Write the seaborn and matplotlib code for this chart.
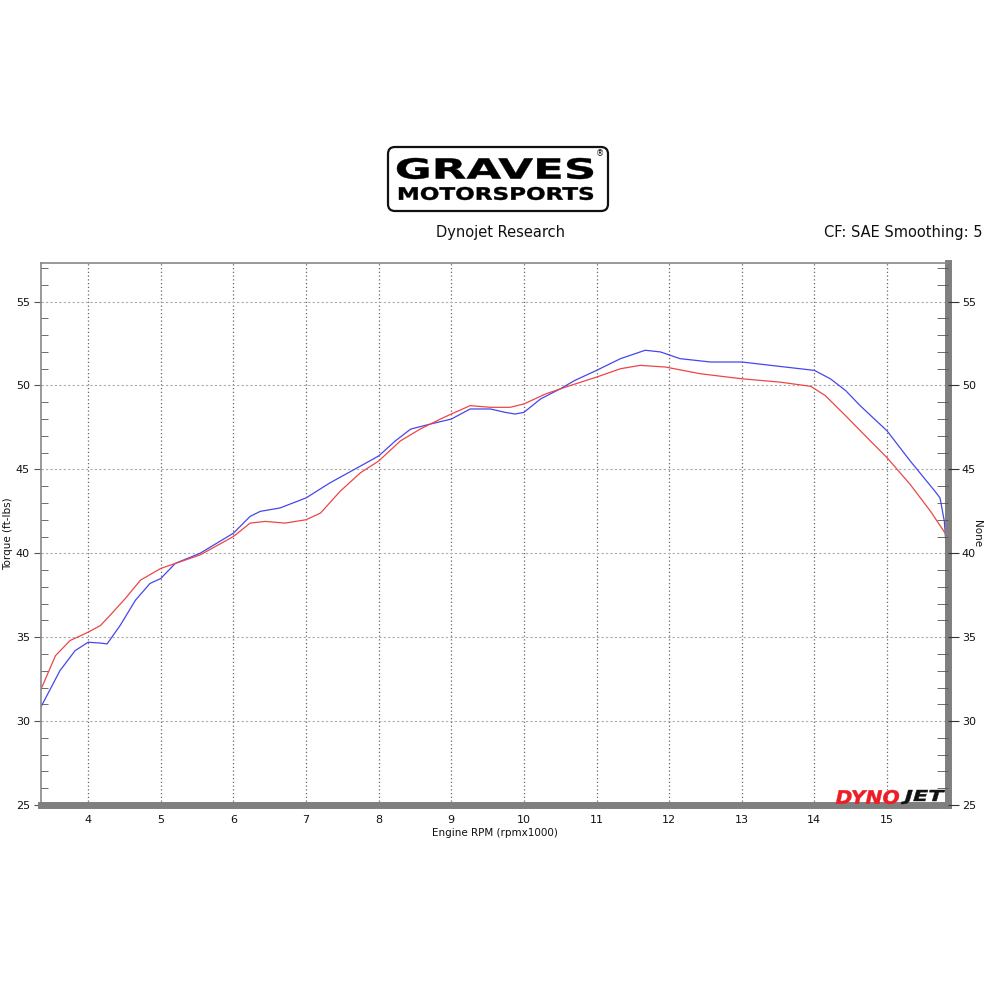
import numpy as np
import pandas as pd
import matplotlib
matplotlib.use("Agg")
import matplotlib.pyplot as plt
import seaborn as sns
from matplotlib.patches import FancyBboxPatch, PathPatch
from matplotlib.textpath import TextPath
from matplotlib.font_manager import FontProperties
from matplotlib.transforms import Affine2D
from matplotlib.ticker import MultipleLocator

# ── Data ──────────────────────────────────────────────────────────────────────
blue_rpm = [3.35, 3.61, 3.82, 4.00, 4.17, 4.26, 4.44, 4.65, 4.85, 5.00, 5.20, 5.54,
            6.00, 6.23, 6.37, 6.64, 7.00, 7.33, 7.75, 8.00, 8.23, 8.44, 8.71, 9.00,
            9.26, 9.54, 9.74, 9.88, 10.00, 10.23, 10.50, 10.70, 11.00, 11.33, 11.67,
            11.88, 12.15, 12.57, 13.00, 13.40, 14.00, 14.22, 14.43, 14.63, 15.00,
            15.32, 15.66, 15.73, 15.79, 15.82, 15.83]
blue_tq = [30.85, 33.0, 34.2, 34.7, 34.65, 34.6, 35.7, 37.2, 38.2, 38.5, 39.4, 40.0,
           41.2, 42.2, 42.5, 42.7, 43.3, 44.2, 45.2, 45.8, 46.7, 47.4, 47.7, 48.0,
           48.6, 48.6, 48.4, 48.3, 48.4, 49.2, 49.8, 50.3, 50.9, 51.6, 52.1,
           52.0, 51.6, 51.4, 51.4, 51.2, 50.9, 50.4, 49.7, 48.8, 47.3,
           45.5, 43.7, 43.3, 41.9, 40.0, 39.0]

red_rpm = [3.35, 3.55, 3.75, 4.00, 4.17, 4.30, 4.51, 4.72, 5.00, 5.27, 5.54, 6.00,
           6.23, 6.44, 6.71, 7.00, 7.20, 7.47, 7.75, 8.00, 8.30, 8.57, 8.85, 9.00,
           9.26, 9.54, 9.81, 10.00, 10.30, 10.64, 11.00, 11.33, 11.60, 11.95, 12.43,
           13.00, 13.53, 13.95, 14.15, 14.43, 14.77, 15.00, 15.32, 15.60, 15.80]
red_tq = [31.9, 33.9, 34.8, 35.3, 35.7, 36.3, 37.3, 38.4, 39.1, 39.5, 39.9, 41.0,
          41.8, 41.9, 41.8, 42.0, 42.4, 43.7, 44.8, 45.5, 46.7, 47.4, 48.0, 48.3,
          48.8, 48.7, 48.7, 48.9, 49.5, 50.0, 50.5, 51.0, 51.2, 51.1, 50.7,
          50.4, 50.2, 49.95, 49.4, 48.2, 46.7, 45.7, 44.1, 42.5, 41.2]

runs = pd.concat([
    pd.DataFrame({"rpm": blue_rpm, "torque": blue_tq, "run": "blue"}),
    pd.DataFrame({"rpm": red_rpm, "torque": red_tq, "run": "red"}),
])

# ── Figure ────────────────────────────────────────────────────────────────────
sns.set_style("white")
plt.rcParams["font.family"] = ["DejaVu Sans"]
plt.rcParams["text.color"] = "#111111"
plt.rcParams["axes.labelcolor"] = "#111111"

fig = plt.figure(figsize=(10, 10), dpi=100)
ax = fig.add_axes([0.041, 0.195, 0.907, 0.542])

sns.lineplot(data=runs, x="rpm", y="torque", hue="run", sort=False,
             palette={"blue": "#4646ec", "red": "#ec4646"}, linewidth=0.9,
             legend=False, ax=ax, estimator=None)

ax.set_xlim(3.35, 15.84)
ax.set_ylim(25, 57.3)
ax.xaxis.set_major_locator(MultipleLocator(1))
ax.xaxis.set_minor_locator(MultipleLocator(0.2))
ax.yaxis.set_major_locator(MultipleLocator(5))
ax.yaxis.set_minor_locator(MultipleLocator(1))
ax.grid(True, which="major", axis="x", color="#666666", linestyle=(0, (1, 2)), linewidth=0.9)
ax.grid(True, which="major", axis="y", color="#aaaaaa", linestyle=(0, (2, 2)), linewidth=0.8)

ax.tick_params(axis="x", which="major", direction="inout", length=10, width=1,
               color="#333333", labelsize=8, labelcolor="#111111", pad=2)
ax.tick_params(axis="x", which="minor", direction="in", length=5, color="#555555")
ax.tick_params(axis="y", which="major", direction="out", length=5, color="#555555",
               labelsize=8, labelcolor="#111111", pad=3)
ax.tick_params(axis="y", which="minor", direction="in", length=5, color="#555555")

for side in ["left", "top"]:
    ax.spines[side].set_color("#888888")
    ax.spines[side].set_linewidth(1.2)
ax.spines["bottom"].set_color("#7f7f7f")
ax.spines["bottom"].set_linewidth(5)
ax.spines["right"].set_color("#7f7f7f")
ax.spines["right"].set_linewidth(5)

ax.set_xlabel("Engine RPM (rpmx1000)", fontsize=7.5)
ax.set_ylabel("Torque (ft-lbs)", fontsize=7.5)
ax.xaxis.set_label_coords(0.5, -0.043)
ax.yaxis.set_label_coords(-0.031, 0.5)

# right-hand axis mirrors the torque scale
ax2 = ax.twinx()
ax2.set_ylim(ax.get_ylim())
ax2.yaxis.set_major_locator(MultipleLocator(5))
ax2.yaxis.set_minor_locator(MultipleLocator(1))
ax2.tick_params(axis="y", which="major", direction="out", length=8, color="#333333",
                labelsize=8, labelcolor="#111111", pad=2)
ax2.tick_params(axis="y", which="minor", direction="in", length=8, color="#555555")
for s in ax2.spines.values():
    s.set_visible(False)
ax2.set_ylabel("None", rotation=-90, fontsize=7.5)
ax2.yaxis.set_label_coords(1.038, 0.5)


def boxed_text(s, x0, y0, w, h, color="black", italic=False):
    # text path squeezed into a box given in figure fractions
    prop = FontProperties(family="DejaVu Sans", weight="bold",
                          style="oblique" if italic else "normal")
    tp = TextPath((0, 0), s, size=10, prop=prop)
    bb = tp.get_extents()
    tr = (Affine2D().translate(-bb.x0, -bb.y0)
          .scale(w / bb.width, h / bb.height)
          .translate(x0, y0) + fig.transFigure)
    fig.patches.append(PathPatch(tp, transform=tr, facecolor=color, edgecolor=color,
                                 linewidth=0.3, zorder=5))


# dynojet mark in the corner of the plot
boxed_text("DYNO", 0.836, 0.196, 0.063, 0.014, color="#ee1c25", italic=True)
boxed_text("JET", 0.901, 0.196, 0.044, 0.014, color="#111111", italic=True)

# header logo
logo = FancyBboxPatch((0.388, 0.789), 0.220, 0.064, boxstyle="round,pad=0,rounding_size=0.007",
                      transform=fig.transFigure, facecolor="white", edgecolor="#111111",
                      linewidth=1.6)
fig.patches.append(logo)
boxed_text("GRAVES", 0.397, 0.821, 0.196, 0.021)
boxed_text("MOTORSPORTS", 0.399, 0.800, 0.194, 0.013)
fig.text(0.600, 0.846, "®", ha="center", va="center", fontsize=6)

fig.text(0.500, 0.767, "Dynojet Research", ha="center", va="center", fontsize=10.5)
fig.text(0.983, 0.767, "CF: SAE Smoothing: 5", ha="right", va="center", fontsize=10.5)

fig.savefig("out.png", dpi=100, facecolor="white")
